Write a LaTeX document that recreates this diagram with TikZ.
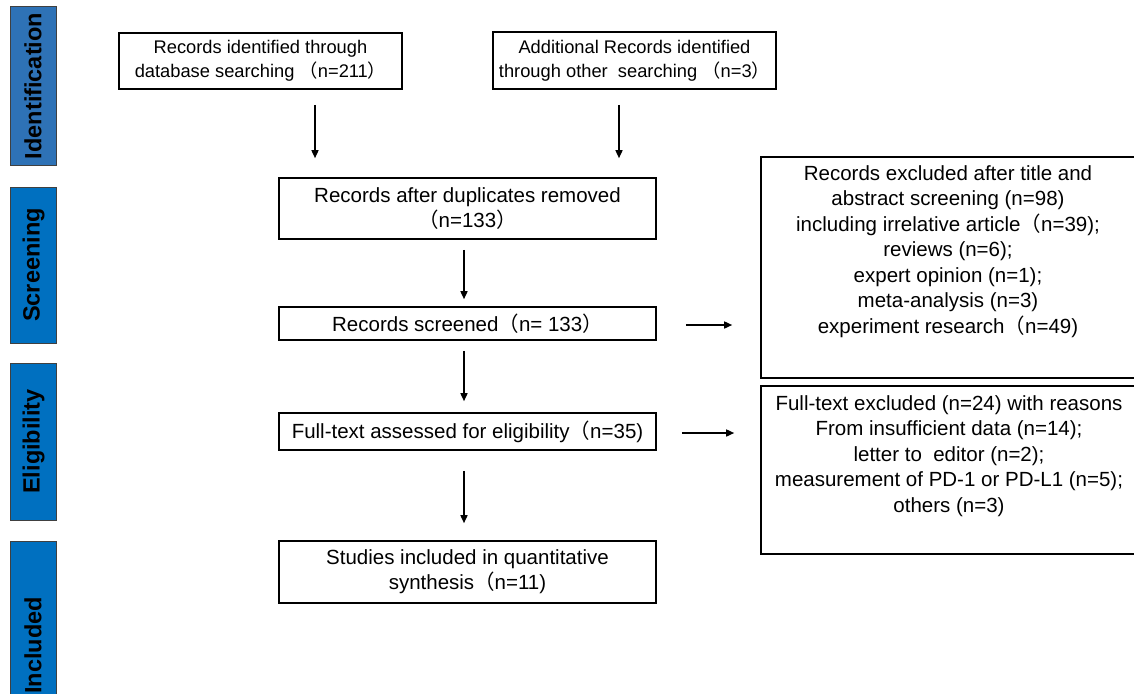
\documentclass[tikz,border=0pt]{standalone}
\usepackage{fontspec}
\setmainfont{Liberation Sans}
\newfontfamily\cjk{Noto Sans CJK SC}
\usetikzlibrary{arrows.meta}
\newcommand{\flp}{{\cjk （}}
\newcommand{\frp}{{\cjk ）}}
\definecolor{idblue}{RGB}{46,114,182}
\definecolor{stblue}{RGB}{0,112,192}
\begin{document}
\begin{tikzpicture}[x=1pt,y=-1pt,
  box/.style={draw=black, line width=1.6pt, inner sep=0pt, align=center, font=\fontsize{20.5}{25}\selectfont},
  topbox/.style={box, font=\fontsize{18.3}{24}\selectfont},
  sidetxt/.style={inner sep=0pt, align=center, font=\fontsize{20.5}{25.5}\selectfont},
  bar/.style={draw=black!75, line width=1pt, rotate=90, inner sep=0pt, font=\bfseries\fontsize{23.5}{28}\selectfont, minimum height=46pt},
  arr/.style={-{Triangle[length=8pt,width=7pt]}, line width=1.5pt}]
\useasboundingbox (0,0) rectangle (1134,693);

% side bars
\node[bar, fill=idblue, minimum width=158pt] (bid) at (33,86) {Identification};
\node[bar, fill=stblue, minimum width=156pt] (bsc) at (33.5,265) {Screening};
\node[bar, fill=stblue, minimum width=157pt] (bel) at (33.5,441.5) {Eligibility};
\node[bar, fill=stblue, minimum width=209pt] (bin) at (33,645.5) {Included};

% main boxes
\node[topbox, minimum width=283pt, minimum height=56pt] (b1) at (260.5,61) {Records identified through\\database searching \flp n=211\frp};
\node[topbox, minimum width=283pt, minimum height=57pt] (b2) at (634.5,60.5) {Additional Records identified\\through other\ \ searching \flp n=3\frp};
\node[box, minimum width=377pt, minimum height=61pt] (b3) at (467.5,208.5) {Records after duplicates removed\\\flp n=133\frp};
\node[box, minimum width=377pt, minimum height=33pt] (b4) at (467.5,323.5) {Records screened\flp n= 133\frp};
\node[box, minimum width=377pt, minimum height=37pt] (b6) at (467.5,431.5) {Full-text assessed for eligibility\flp n=35)};
\node[box, minimum width=377pt, minimum height=62pt] (b8) at (467.5,572) {Studies included in quantitative\\synthesis\flp n=11)};

% exclusion boxes
\node[draw=black, line width=1.6pt, minimum width=379pt, minimum height=221pt] (e1) at (950.5,267.5) {};
\node[sidetxt, anchor=north] (e1t) at (948,165) {Records excluded after title and\\abstract screening (n=98)\\including irrelative article\flp n=39);\\reviews (n=6);\\expert opinion (n=1);\\meta-analysis (n=3)\\experiment research\flp n=49)};
\node[draw=black, line width=1.6pt, minimum width=379pt, minimum height=168pt] (e2) at (950.5,470) {};
\node[sidetxt, anchor=north] (e2t) at (949,395) {Full-text excluded (n=24) with reasons\\From insufficient data (n=14);\\letter to\ \ editor (n=2);\\measurement of PD-1 or PD-L1 (n=5);\\others (n=3)};

% arrows
\draw[arr, shorten <=15pt, shorten >=19pt] ([xshift=54.5pt]b1.south) -- ([xshift=54.5pt]b1.south |- b3.north);
\draw[arr, shorten <=15pt, shorten >=19pt] ([xshift=-15.5pt]b2.south) -- ([xshift=-15.5pt]b2.south |- b3.north);
\draw[arr, shorten <=10pt, shorten >=7pt] ([xshift=-3.5pt]b3.south) -- ([xshift=-3.5pt]b3.south |- b4.north);
\draw[arr, shorten <=10pt, shorten >=11pt] ([xshift=-3.5pt]b4.south) -- ([xshift=-3.5pt]b4.south |- b6.north);
\draw[arr, shorten <=20pt, shorten >=17pt] ([xshift=-3.5pt]b6.south) -- ([xshift=-3.5pt]b6.south |- b8.north);
\draw[arr, shorten <=29pt, shorten >=28pt] ([yshift=-1.5pt]b4.east) -- ([yshift=-1.5pt]b4.east -| e1.west);
\draw[arr, shorten <=25pt, shorten >=26pt] ([yshift=-1.5pt]b6.east) -- ([yshift=-1.5pt]b6.east -| e2.west);
\end{tikzpicture}
\end{document}
